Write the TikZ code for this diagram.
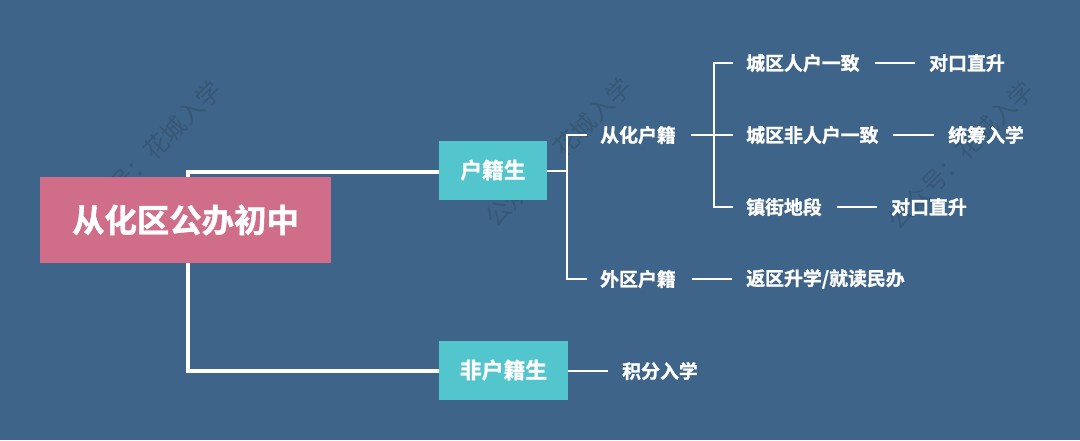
\documentclass[tikz,border=0pt]{standalone}
\usepackage{fontspec}
\setmainfont{Noto Sans CJK SC}[BoldFont={Noto Sans CJK SC Bold},BoldFeatures={FakeBold=1.2}]
\definecolor{bgc}{HTML}{3F6489}
\definecolor{rootc}{HTML}{D06E8A}
\definecolor{tealc}{HTML}{53C5CD}
\definecolor{wmc}{HTML}{365876}
\tikzset{x=1pt,y=-1pt,
  conn/.style={draw=white,line width=2.7pt},
  thick conn/.style={draw=white,line width=4pt},
  rootbox/.style={fill=rootc,text=white,font=\fontsize{32.4}{33}\selectfont\bfseries,inner sep=0pt},
  tealbox/.style={fill=tealc,text=white,font=\fontsize{21.8}{22}\selectfont\bfseries,inner sep=0pt},
  lab/.style={text=white,font=\fontsize{18.9}{20}\selectfont\bfseries,inner sep=0pt},
  wm/.style={text=wmc,font=\fontsize{24.5}{25}\selectfont,rotate=45.5,inner sep=0pt}}
\begin{document}
\begin{tikzpicture}
\path[fill=bgc] (0,0) rectangle (1080,440);
\useasboundingbox (0,0) rectangle (1080,440);
% watermarks
\node[wm] (w1) at (148,155) {公众号：花城入学};
\node[wm] (w2) at (558,152) {公众号：花城入学};
\node[wm] (w3) at (960,155) {公众号：花城入学};
% coordinates
\coordinate (top) at (188,172);
\coordinate (bot) at (188,371.3);
\coordinate (rt) at (188,177);
\coordinate (rb) at (188,263);
% connectors under nodes
\node[tealbox,minimum width=108,minimum height=59] (hj) at (493,170) {户籍生};
\node[tealbox,minimum width=129,minimum height=59] (fhj) at (503.5,370) {非户籍生};
\draw[thick conn] (rt) -- (top) -- (hj.west |- top);
\draw[thick conn] (rb) -- (bot) -- (fhj.west |- bot);
\node[rootbox,minimum width=291,minimum height=86] (root) at (185.5,220) {从化区公办初中};
% labels
\node[lab,anchor=west] (chj) at (600,135) {从化户籍};
\node[lab,anchor=west] (whj) at (600,279) {外区户籍};
\node[lab,anchor=west] (c1) at (746,63) {城区人户一致};
\node[lab,anchor=west] (c2) at (746,135) {城区非人户一致};
\node[lab,anchor=west] (c3) at (746,207) {镇街地段};
\node[lab,anchor=west] (d1) at (929,63) {对口直升};
\node[lab,anchor=west] (d2) at (948,135) {统筹入学};
\node[lab,anchor=west] (d3) at (891,207) {对口直升};
\node[lab,anchor=west] (d4) at (746,279) {返区升学/就读民办};
\node[lab,anchor=west] (jf) at (622,371) {积分入学};
% tree connectors
\coordinate (v1) at (567,171);
\draw[conn] (hj.east |- v1) -- (v1);
\draw[conn] (587,135) -| (v1) |- (587,279);
\coordinate (v2) at (714,135);
\draw[conn] (691,135) -- (733,135);
\draw[conn] (733,63) -| (v2) |- (733,207);
\draw[conn] (875,63) -- (915,63);
\draw[conn] (893,135) -- (934,135);
\draw[conn] (837,207) -- (877,207);
\draw[conn] (692,279) -- (732,279);
\draw[conn] (fhj.east |- jf) -- (608,371);
\end{tikzpicture}
\end{document}
